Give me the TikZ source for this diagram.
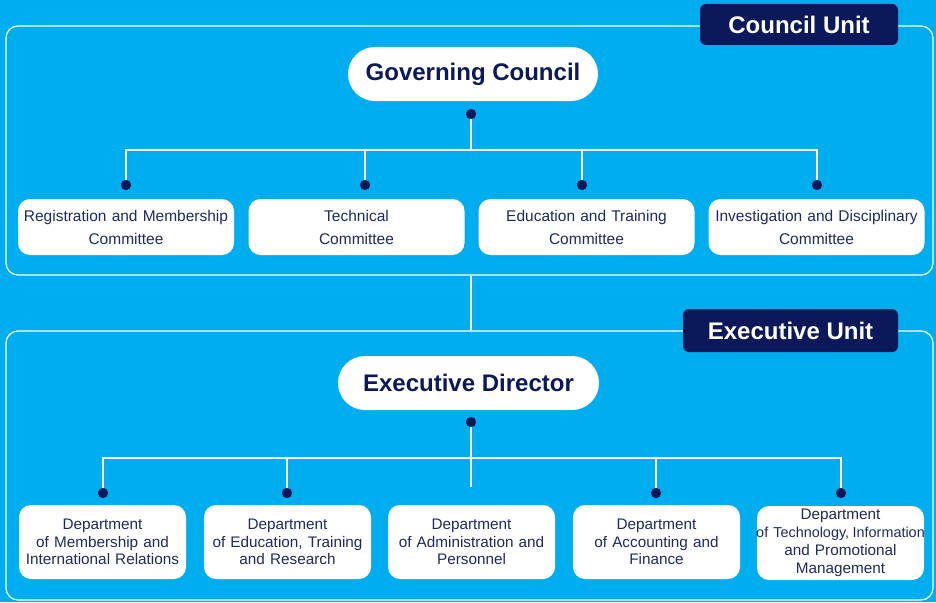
\documentclass[tikz,border=0pt]{standalone}
\usepackage{fontspec}
\setmainfont{Liberation Sans}
\definecolor{bg}{HTML}{00ADEF}
\definecolor{navy}{HTML}{0B1859}
\definecolor{txt}{HTML}{1E2A66}
\tikzset{
  frame/.style={draw=white, line width=1.2pt, rounded corners=12pt, inner sep=0pt},
  unitlab/.style={fill=navy, rounded corners=6pt, text=white, font=\fontsize{24}{28}\selectfont\bfseries, inner sep=0pt},
  pill/.style={fill=white, rounded corners=27pt, text=navy, font=\fontsize{24}{28}\selectfont\bfseries, inner sep=0pt, minimum height=54pt},
  comm/.style={fill=white, rounded corners=12pt, text=txt, font=\fontsize{15.5}{23}\selectfont, align=center, inner sep=0pt, minimum width=216pt, minimum height=56pt, text width=214pt},
  dept/.style={fill=white, rounded corners=12pt, text=txt, font=\fontsize{15.3}{17.8}\selectfont, align=center, inner sep=0pt, minimum width=167pt, minimum height=74pt, text width=167pt},
  wire/.style={draw=white, line width=1.2pt},
  dot/.style={circle, fill=navy, minimum size=10pt, inner sep=0pt}
}
\begin{document}
\begin{tikzpicture}[x=1pt,y=-1pt]
\fill[bg] (0,0) rectangle (936,602);
\useasboundingbox (0,0) rectangle (936,602);
% frames
\node[frame, minimum width=927pt, minimum height=249pt] (cf) at (469.5,150.5) {};
\node[frame, minimum width=927pt, minimum height=269pt] (ef) at (469.5,465.5) {};
% unit labels
\node[unitlab, minimum width=198pt, minimum height=41pt] (cu) at (799,24.5) {Council Unit};
\node[unitlab, minimum width=215pt, minimum height=43pt] (eu) at (790.5,330.5) {Executive Unit};
% top pills
\node[pill, minimum width=250pt] (gc) at (473,74) {\raisebox{-2pt}{Governing Council}};
\node[pill, minimum width=261pt] (ed) at (468.5,383) {\raisebox{-2pt}{Executive Director}};
% committees
\node[comm] (c1) at (126,227) {Registration and Membership\\Committee};
\node[comm] (c2) at (356.5,227) {Technical\\Committee};
\node[comm] (c3) at (586.5,227) {Education and Training\\Committee};
\node[comm] (c4) at (816.5,227) {Investigation and Disciplinary\\Committee};
% departments
\node[dept] (e1) at (102.5,542) {Department\\of Membership and\\International Relations};
\node[dept] (e2) at (287.5,542) {Department\\of Education, Training\\and Research};
\node[dept] (e3) at (471.5,542) {Department\\of Administration and\\Personnel};
\node[dept] (e4) at (656.5,542) {Department\\of Accounting and\\Finance};
\node[dept] (e5) at (840.5,543) {Department\\\makebox[0pt]{\fontsize{14.4}{17.8}\selectfont of Technology,\kern-1.5pt\ Information}\\and Promotional\\Management};
% dots
\node[dot] (g0) at (471,114) {};
\node[dot] (g1) at (126,185) {};
\node[dot] (g2) at (365,185) {};
\node[dot] (g3) at (582,185) {};
\node[dot] (g4) at (817,185) {};
\node[dot] (x0) at (471,422) {};
\node[dot] (x1) at (103,493) {};
\node[dot] (x2) at (287,493) {};
\node[dot] (x4) at (656,493) {};
\node[dot] (x5) at (841,493) {};
\coordinate (bus1) at (471,150);
\coordinate (bus2) at (471,458);
\coordinate (midend) at (471,487);
% wires
\draw[wire] (g0.center) -- (bus1);
\draw[wire] (g1.center) |- (bus1) -| (g4.center);
\draw[wire] (g2.center) -- (g2.center |- bus1);
\draw[wire] (g3.center) -- (g3.center |- bus1);
\draw[wire] (cf.south -| g0) -- (ef.north -| g0);
\draw[wire] (x0.center) -- (midend);
\draw[wire] (x1.center) |- (bus2) -| (x5.center);
\draw[wire] (x2.center) -- (x2.center |- bus2);
\draw[wire] (x4.center) -- (x4.center |- bus2);
% dots on top
\foreach \d in {g0,g1,g2,g3,g4,x0,x1,x2,x4,x5}{\fill[navy] (\d) circle (5pt);}
\end{tikzpicture}
\end{document}
